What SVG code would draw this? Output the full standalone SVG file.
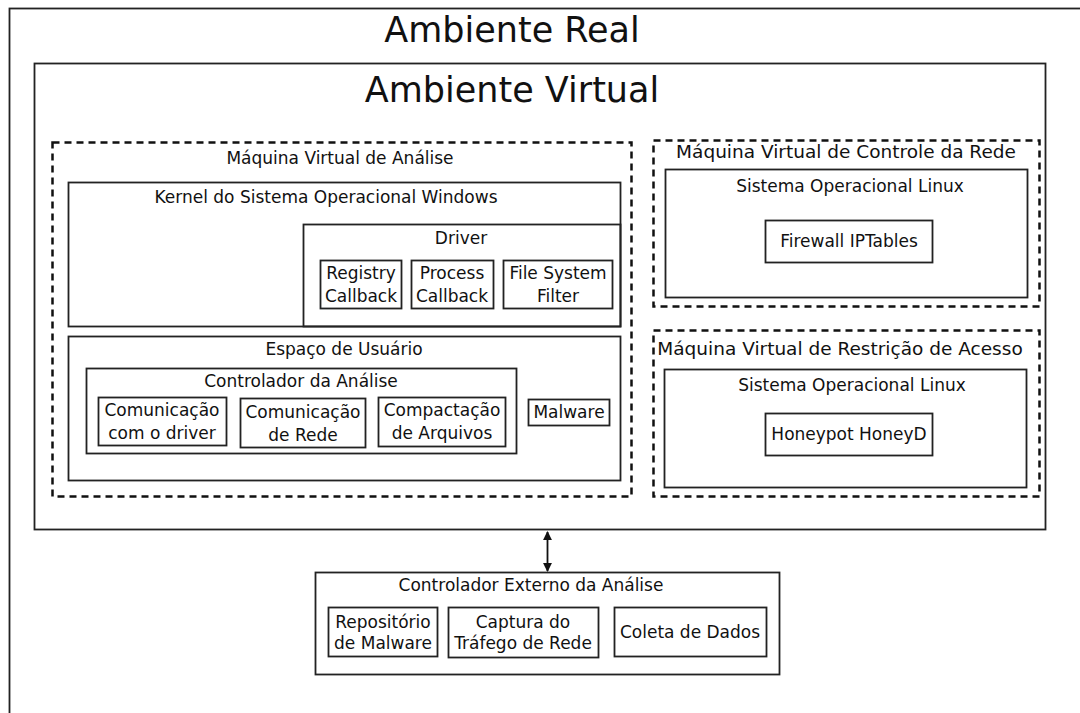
<svg xmlns="http://www.w3.org/2000/svg" width="1080" height="713" viewBox="0 0 1080 713">
<style>
  .box{fill:none;stroke:#222;stroke-width:1.8}
  .dash{fill:none;stroke:#111;stroke-width:2.5;stroke-dasharray:7,5}
  text{font-family:"DejaVu Sans",sans-serif;fill:#111;text-anchor:middle}
  .t{font-size:17px}
  .t2{font-size:18.5px}
  .big{font-size:35px}
</style>
<defs>
  <marker id="ah" viewBox="0 0 10 10" refX="9" refY="5" markerWidth="5" markerHeight="5" orient="auto-start-reverse">
    <path d="M0,0 L10,5 L0,10 z" fill="#111"/>
  </marker>
</defs>
<rect width="1080" height="713" fill="#fff"/>
<g id="ambiente-real">
  <rect class="box" x="9.5" y="8.5" width="1200" height="900"/>
  <text class="big" x="512" y="42">Ambiente Real</text>
</g>
<g id="ambiente-virtual">
  <rect class="box" x="34.5" y="63.5" width="1011" height="466"/>
  <text class="big" x="512" y="102">Ambiente Virtual</text>
</g>
<g id="vm-analise">
  <rect class="dash" x="52.5" y="142.5" width="579" height="354"/>
  <text class="t" x="340" y="164">Máquina Virtual de Análise</text>
</g>
<g id="kernel">
  <rect class="box" x="68.5" y="182.5" width="552" height="144"/>
  <text class="t" x="326" y="203">Kernel do Sistema Operacional Windows</text>
</g>
<g id="driver">
  <rect class="box" x="303.5" y="224.5" width="317" height="102"/>
  <text class="t" x="461" y="244">Driver</text>
</g>
<g id="registry">
  <rect class="box" x="320.5" y="260.5" width="81" height="48"/>
  <text class="t" x="361" y="279">Registry</text>
  <text class="t" x="361" y="302">Callback</text>
</g>
<g id="process">
  <rect class="box" x="411.5" y="260.5" width="82" height="48"/>
  <text class="t" x="452" y="279">Process</text>
  <text class="t" x="452" y="302">Callback</text>
</g>
<g id="fsfilter">
  <rect class="box" x="503.5" y="260.5" width="109" height="48"/>
  <text class="t" x="558" y="279">File System</text>
  <text class="t" x="558" y="302">Filter</text>
</g>
<g id="espaco-usuario">
  <rect class="box" x="68.5" y="336.5" width="552" height="144"/>
  <text class="t" x="344" y="355">Espaço de Usuário</text>
</g>
<g id="controlador-analise">
  <rect class="box" x="86.5" y="368.5" width="430" height="85"/>
  <text class="t" x="301" y="387">Controlador da Análise</text>
</g>
<g id="com-driver">
  <rect class="box" x="98.5" y="397.5" width="128" height="48"/>
  <text class="t" x="162" y="416">Comunicação</text>
  <text class="t" x="162" y="439">com o driver</text>
</g>
<g id="com-rede">
  <rect class="box" x="240.5" y="398.5" width="125" height="49"/>
  <text class="t" x="303" y="418">Comunicação</text>
  <text class="t" x="303" y="441">de Rede</text>
</g>
<g id="compactacao">
  <rect class="box" x="378.5" y="397.5" width="127" height="49"/>
  <text class="t" x="442" y="416">Compactação</text>
  <text class="t" x="442" y="439">de Arquivos</text>
</g>
<g id="malware">
  <rect class="box" x="528.5" y="399.5" width="81" height="26"/>
  <text class="t" x="569" y="418">Malware</text>
</g>
<g id="vm-controle-rede">
  <rect class="dash" x="653.5" y="140.5" width="386" height="166"/>
  <text class="t2" x="846" y="158">Máquina Virtual de Controle da Rede</text>
</g>
<g id="linux-1">
  <rect class="box" x="665.5" y="169.5" width="362" height="128"/>
  <text class="t" x="850" y="192">Sistema Operacional Linux</text>
</g>
<g id="firewall">
  <rect class="box" x="765.5" y="220.5" width="167" height="42"/>
  <text class="t" x="849" y="247">Firewall IPTables</text>
</g>
<g id="vm-restricao">
  <rect class="dash" x="653.5" y="330.5" width="386" height="166"/>
  <text class="t2" x="840" y="355">Máquina Virtual de Restrição de Acesso</text>
</g>
<g id="linux-2">
  <rect class="box" x="664.5" y="369.5" width="362" height="118"/>
  <text class="t" x="852" y="391">Sistema Operacional Linux</text>
</g>
<g id="honeypot">
  <rect class="box" x="765.5" y="413.5" width="167" height="42"/>
  <text class="t" x="849" y="440">Honeypot HoneyD</text>
</g>
<g id="controlador-externo">
  <rect class="box" x="315.5" y="572.5" width="464" height="102"/>
  <text class="t" x="531" y="591">Controlador Externo da Análise</text>
</g>
<g id="repositorio">
  <rect class="box" x="328.5" y="607.5" width="109" height="49"/>
  <text class="t" x="383" y="628">Repositório</text>
  <text class="t" x="383" y="649">de Malware</text>
</g>
<g id="captura">
  <rect class="box" x="448.5" y="607.5" width="150" height="50"/>
  <text class="t" x="523" y="628">Captura do</text>
  <text class="t" x="523" y="649">Tráfego de Rede</text>
</g>
<g id="coleta">
  <rect class="box" x="614.5" y="607.5" width="152" height="49"/>
  <text class="t" x="690" y="638">Coleta de Dados</text>
</g>
<g id="connectors">
  <line x1="547.5" y1="532" x2="547.5" y2="571" stroke="#111" stroke-width="1.8" marker-start="url(#ah)" marker-end="url(#ah)"/>
</g>
</svg>
